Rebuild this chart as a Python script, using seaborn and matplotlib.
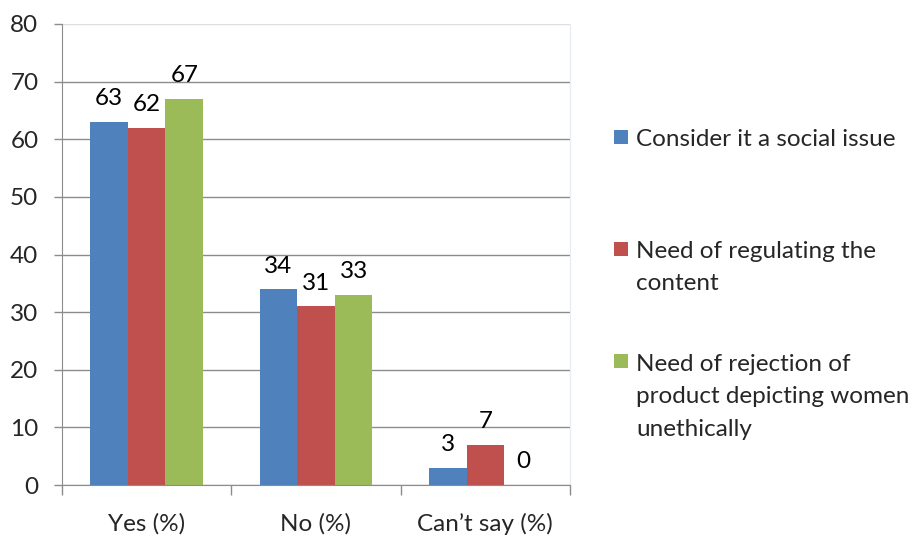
import pandas as pd
import numpy as np
import matplotlib.pyplot as plt
import seaborn as sns
from matplotlib.patches import Rectangle

# Dados
categorias = ['Yes (%)', 'No (%)', 'Can\u2019t say (%)']
series = ['Consider it a social issue',
          'Need of regulating the\ncontent',
          'Need of rejection of\nproduct depicting women\nunethically']
social = [63, 34, 3]
regular = [62, 31, 7]
rejeicao = [67, 33, 0]
cores = ['#4F81BD', '#C0504D', '#9BBB59']

dados = pd.DataFrame({
    'categoria': categorias * 3,
    'serie': [series[0]] * 3 + [series[1]] * 3 + [series[2]] * 3,
    'valor': social + regular + rejeicao,
})

sns.set_style('white')
plt.rcParams['font.family'] = ['Lato', 'DejaVu Sans']
fs = 17.5

W, H = 917, 537
fig = plt.figure(figsize=(W / 100, H / 100), dpi=100)
ax = fig.add_axes([62 / W, 1 - 485 / H, (570 - 62) / W, (485 - 24) / H])

sns.barplot(data=dados, x='categoria', y='valor', hue='serie',
            palette=cores, width=0.667, linewidth=0, saturation=1,
            legend=False, ax=ax)

for cont in ax.containers:
    ax.bar_label(cont, fontsize=fs, padding=9, color='black')

ax.set_ylim(0, 80)
ax.set_xlim(-0.5, 2.5)
ax.set_yticks(range(0, 81, 10))
ax.yaxis.grid(True, color='#8c8c8c', linewidth=1)
ax.get_ygridlines()[-1].set_color('#dedede')
ax.set_axisbelow(True)
ax.set_xlabel('')
ax.set_ylabel('')

ax.spines['top'].set_visible(False)
ax.spines['right'].set_color('#e6ebf5')
ax.spines['left'].set_color('#8c8c8c')
ax.spines['bottom'].set_color('#8c8c8c')

ax.tick_params(axis='y', length=6, width=1, color='#8c8c8c', labelsize=fs, pad=11, left=True)
ax.tick_params(axis='x', length=0, labelsize=fs, pad=20)
ax.set_xticks([-0.5, 0.5, 1.5, 2.5], minor=True)
ax.tick_params(axis='x', which='minor', length=7, width=1, color='#8c8c8c', bottom=True)

# Legenda manual (baseline da ultima linha)
centros = [137, 249, 361]
passo = 33
for cor, nome, yc in zip(cores, series, centros):
    fig.add_artist(Rectangle((614 / W, 1 - (yc + 7) / H), 14 / W, 14 / H,
                             facecolor=cor, edgecolor='none', transform=fig.transFigure))
    n = nome.count('\n')
    fig.text(636 / W, 1 - (yc + 8.5 + n * passo) / H, nome, fontsize=fs,
             va='baseline', ha='left', linespacing=1.65)

fig.savefig('out.png', dpi=100)
